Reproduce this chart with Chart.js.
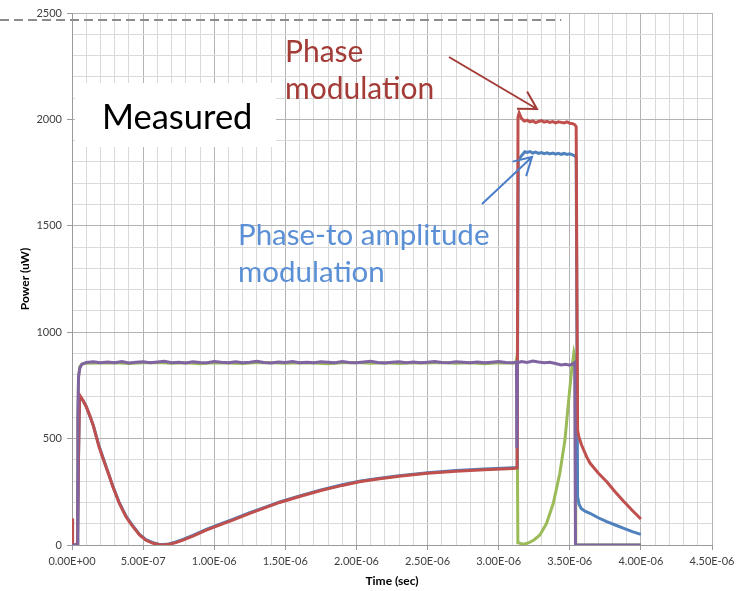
<!DOCTYPE html>
<html>
<head>
<meta charset="utf-8">
<script src="https://cdn.jsdelivr.net/npm/chart.js@4/dist/chart.umd.min.js"></script>
<style>
  html, body { margin: 0; padding: 0; background: #fff; }
  canvas { display: block; }
</style>
</head>
<body>
<canvas id="powerChart" width="748" height="591"></canvas>
<script>
// time values in microseconds (axis labels are shown in seconds)
const redTime = [0, 0.004, 0.038, 0.046, 0.053, 0.076, 0.1, 0.125, 0.15, 0.17, 0.19, 0.215, 0.24, 0.265, 0.287, 0.31, 0.33, 0.355, 0.38, 0.405, 0.43, 0.475, 0.52, 0.57, 0.61, 0.64, 0.68, 0.73, 0.78, 0.85, 0.944, 1.04, 1.13, 1.25, 1.35, 1.46, 1.6, 1.75, 1.9, 2.02, 2.15, 2.3, 2.5, 2.7, 2.9, 3.1, 3.13,
  3.136, 3.144, 3.16, 3.18, 3.2, 3.22, 3.24, 3.26, 3.28, 3.3, 3.32, 3.34, 3.36, 3.38, 3.4, 3.42, 3.44, 3.46, 3.48, 3.5, 3.52, 3.535, 3.545,
  3.555, 3.565, 3.583, 3.618, 3.642, 3.7, 3.76, 3.82, 3.88, 3.94, 4.0];
const redPower = [125, 0, 0, 420, 705, 681, 650, 608, 560, 510, 462, 412, 365, 318, 274, 235, 200, 165, 133, 107, 85, 47, 22, 8, 2, 0, 3, 11, 23, 42, 70, 95, 117, 149, 173, 200, 228, 256, 280, 297, 310, 323, 337, 347, 354, 360, 362,
  2010, 2030, 2005, 1992, 1996, 1988, 1993, 1985, 1990, 1994, 1987, 1991, 1986, 1990, 1984, 1989, 1986, 1983, 1988, 1982, 1980, 1975, 1966,
  540, 505, 470, 415, 385, 338, 297, 249, 204, 162, 122];

const blueTime = [0, 0.004, 0.038, 0.046, 0.053, 0.076, 0.1, 0.15, 0.19, 0.24, 0.287, 0.33, 0.38, 0.43, 0.475, 0.52, 0.57, 0.61, 0.64, 0.68, 0.73, 0.78, 0.85, 0.944, 1.04, 1.13, 1.25, 1.35, 1.46, 1.6, 1.75, 1.9, 2.02, 2.15, 2.3, 2.5, 2.7, 2.9, 3.1, 3.13,
  3.138, 3.156, 3.184, 3.2, 3.22, 3.24, 3.26, 3.28, 3.3, 3.32, 3.34, 3.36, 3.38, 3.4, 3.42, 3.44, 3.46, 3.48, 3.5, 3.52, 3.536, 3.545,
  3.555, 3.565, 3.58, 3.61, 3.642, 3.7, 3.76, 3.82, 3.88, 3.94, 4.0];
const bluePower = [122, 0, 0, 415, 700, 680, 651, 562, 465, 368, 277, 203, 136, 88, 50, 25, 11, 4, 2, 5, 14, 26, 45, 73, 98, 120, 152, 176, 203, 231, 259, 283, 300, 313, 326, 340, 350, 357, 363, 364,
  1810, 1825, 1848, 1845, 1849, 1842, 1846, 1840, 1844, 1839, 1843, 1838, 1842, 1837, 1841, 1836, 1840, 1835, 1838, 1833, 1828, 1820,
  227, 192, 172, 158, 149, 128, 110, 94, 78, 63, 50];

const greenTime = [0, 0.036, 0.041, 0.046, 0.055, 0.07, 0.1, 0.2, 0.3, 0.4, 0.5, 0.6, 0.7, 0.8, 0.9, 1.0, 1.1, 1.2, 1.3, 1.4, 1.5, 1.6, 1.7, 1.8, 1.9, 2.0, 2.1, 2.2, 2.3, 2.4, 2.5, 2.6, 2.7, 2.8, 2.9, 3.0, 3.1,
  3.12, 3.128, 3.135, 3.14, 3.16, 3.18, 3.2, 3.22, 3.25, 3.29, 3.337, 3.384, 3.43, 3.466, 3.49, 3.513, 3.529, 3.537, 3.542, 4.0];
const greenPower = [0, 0, 580, 790, 838, 850, 854, 855, 857, 853, 856, 858, 854, 856, 852, 857, 855, 853, 858, 856, 854, 857, 855, 852, 856, 858, 854, 856, 853, 857, 855, 858, 854, 856, 852, 857, 855,
  856, 882, 10, 10, 6, 5, 8, 13, 25, 47, 102, 196, 337, 493, 666, 822, 904, 880, 0, 0];

const purpleTime = [0, 0.036, 0.041, 0.046, 0.055, 0.07,
  0.1, 0.15, 0.2, 0.25, 0.3, 0.35, 0.4, 0.45, 0.5, 0.55, 0.6, 0.65, 0.7, 0.75, 0.8, 0.85, 0.9, 0.95, 1.0, 1.05, 1.1, 1.15, 1.2, 1.25, 1.3, 1.35, 1.4, 1.45, 1.5, 1.55,
  1.6, 1.65, 1.7, 1.75, 1.8, 1.85, 1.9, 1.95, 2.0, 2.05, 2.1, 2.15, 2.2, 2.25, 2.3, 2.35, 2.4, 2.45, 2.5, 2.55, 2.6, 2.65, 2.7, 2.75, 2.8, 2.85, 2.9, 2.95, 3.0, 3.05, 3.1,
  3.12, 3.125, 3.128, 3.132, 3.16, 3.2, 3.24, 3.28, 3.32, 3.36, 3.4, 3.44, 3.47, 3.5, 3.52, 3.535, 3.54, 4.0];
const purplePower = [0, 0, 600, 790, 832, 850,
  858, 861, 856, 860, 857, 862, 855, 859, 861, 856, 860, 863, 857, 859, 855, 861, 858, 856, 862, 859, 857, 861, 856, 859, 863, 858, 855, 860, 858, 862,
  857, 859, 856, 861, 859, 857, 862, 858, 856, 860, 863, 858, 855, 859, 861, 857, 860, 856, 859, 862, 858, 856, 861, 859, 857, 860, 856, 859, 862, 858, 857,
  859, 860, 455, 856, 862, 858, 864, 860, 857, 859, 853, 846, 849, 845, 851, 858, 0, 0];

const xTicksMajor = ['0.00E+00', '5.00E-07', '1.00E-06', '1.50E-06', '2.00E-06', '2.50E-06', '3.00E-06', '3.50E-06', '4.00E-06', '4.50E-06'];
const yTicksMajor = ['0', '500', '1000', '1500', '2000', '2500'];

const toPoints = (t, p) => t.map((x, i) => ({ x: x, y: p[i] }));

const isMajorX = v => Math.round(v * 10) % 5 === 0;
const isMajorY = v => Math.round(v) % 500 === 0;

const overlay = {
    id: 'overlay',
    beforeDatasetsDraw(chart) {
        const ctx = chart.ctx;
        ctx.save();
        ctx.fillStyle = '#ffffff';
        ctx.fillRect(75, 83, 201, 64);
        ctx.restore();
    },
    afterDraw(chart) {
        const ctx = chart.ctx;
        const x = chart.scales.x, y = chart.scales.y;
        ctx.save();

        // dashed line across the top
        ctx.strokeStyle = '#8c8c8c';
        ctx.lineWidth = 2;
        ctx.setLineDash([9, 5]);
        ctx.beginPath();
        ctx.moveTo(0, y.getPixelForValue(2467));
        ctx.lineTo(x.getPixelForValue(3.44), y.getPixelForValue(2467));
        ctx.stroke();
        ctx.setLineDash([]);

        ctx.fillStyle = '#000000';
        ctx.font = '34.5px Lato';
        ctx.textBaseline = 'alphabetic';
        ctx.fillText('Measured', 102, 129);

        ctx.fillStyle = '#a33b37';
        ctx.font = '30px Lato';
        ctx.fillText('Phase', 285, 62);
        ctx.fillText('modulation', 285, 99);

        ctx.fillStyle = '#5b8fd6';
        ctx.font = '29.5px Lato';
        ctx.fillText('Phase-to amplitude', 238, 245);
        ctx.fillText('modulation', 238, 282);

        drawArrow(ctx, 449, 57, 537, 109, '#a33b37');
        drawArrow(ctx, 482, 204, 532, 157, '#4a7ec8');
        ctx.restore();
    }
};

function drawArrow(ctx, x1, y1, x2, y2, color) {
    const ang = Math.atan2(y1 - y2, x1 - x2);
    ctx.strokeStyle = color;
    ctx.lineWidth = 2;
    ctx.beginPath();
    ctx.moveTo(x1, y1);
    ctx.lineTo(x2, y2);
    ctx.moveTo(x2 + 20 * Math.cos(ang - 0.52), y2 + 20 * Math.sin(ang - 0.52));
    ctx.lineTo(x2, y2);
    ctx.lineTo(x2 + 20 * Math.cos(ang + 0.52), y2 + 20 * Math.sin(ang + 0.52));
    ctx.stroke();
}

const line = (pts, color) => ({
    data: pts,
    borderColor: color,
    borderWidth: 3,
    pointRadius: 0,
    tension: 0,
    fill: false
});

new Chart(document.getElementById('powerChart'), {
    type: 'line',
    data: {
        datasets: [
            line(toPoints(purpleTime, purplePower), '#8064a2'),
            line(toPoints(redTime, redPower), '#c0504d'),
            line(toPoints(blueTime, bluePower), '#4f81bd'),
            line(toPoints(greenTime, greenPower), '#9bbb59')
        ]
    },
    options: {
        responsive: false,
        animation: false,
        devicePixelRatio: 1,
        layout: { padding: { top: 13, right: 36, left: 0, bottom: 0 } },
        plugins: { legend: { display: false }, tooltip: { enabled: false } },
        scales: {
            x: {
                type: 'linear',
                min: 0,
                max: 4.5,
                afterFit: s => { s.height = 46; },
                ticks: {
                    stepSize: 0.1,
                    autoSkip: false,
                    maxRotation: 0,
                    padding: 5,
                    color: '#404040',
                    font: { family: 'Lato', size: 11 },
                    callback: v => isMajorX(v) ? xTicksMajor[Math.round(v * 2)] : ''
                },
                grid: {
                    color: c => isMajorX(c.tick.value) ? '#b3b3b3' : '#dadada',
                    tickColor: c => isMajorX(c.tick.value) ? '#9a9a9a' : 'rgba(0,0,0,0)',
                    tickLength: 5,
                    lineWidth: 1
                },
                border: { color: '#9a9a9a' },
                title: {
                    display: true,
                    text: 'Time (sec)',
                    color: '#000',
                    font: { family: 'Lato', size: 12, weight: 'bold' },
                    padding: { top: 0, bottom: 3 }
                }
            },
            y: {
                min: 0,
                max: 2500,
                afterFit: s => { s.width = 72; },
                ticks: {
                    stepSize: 100,
                    autoSkip: false,
                    padding: 5,
                    color: '#404040',
                    font: { family: 'Lato', size: 11 },
                    callback: v => isMajorY(v) ? yTicksMajor[Math.round(v / 500)] : ''
                },
                grid: {
                    color: c => isMajorY(c.tick.value) ? '#b3b3b3' : '#dadada',
                    tickColor: c => isMajorY(c.tick.value) ? '#9a9a9a' : 'rgba(0,0,0,0)',
                    tickLength: 5,
                    lineWidth: 1
                },
                border: { color: '#9a9a9a' },
                title: {
                    display: true,
                    text: 'Power (uW)',
                    color: '#000',
                    font: { family: 'Lato', size: 12, weight: 'bold' },
                    padding: { top: 18, bottom: 0 }
                }
            }
        }
    },
    plugins: [overlay]
});
</script>
</body>
</html>
